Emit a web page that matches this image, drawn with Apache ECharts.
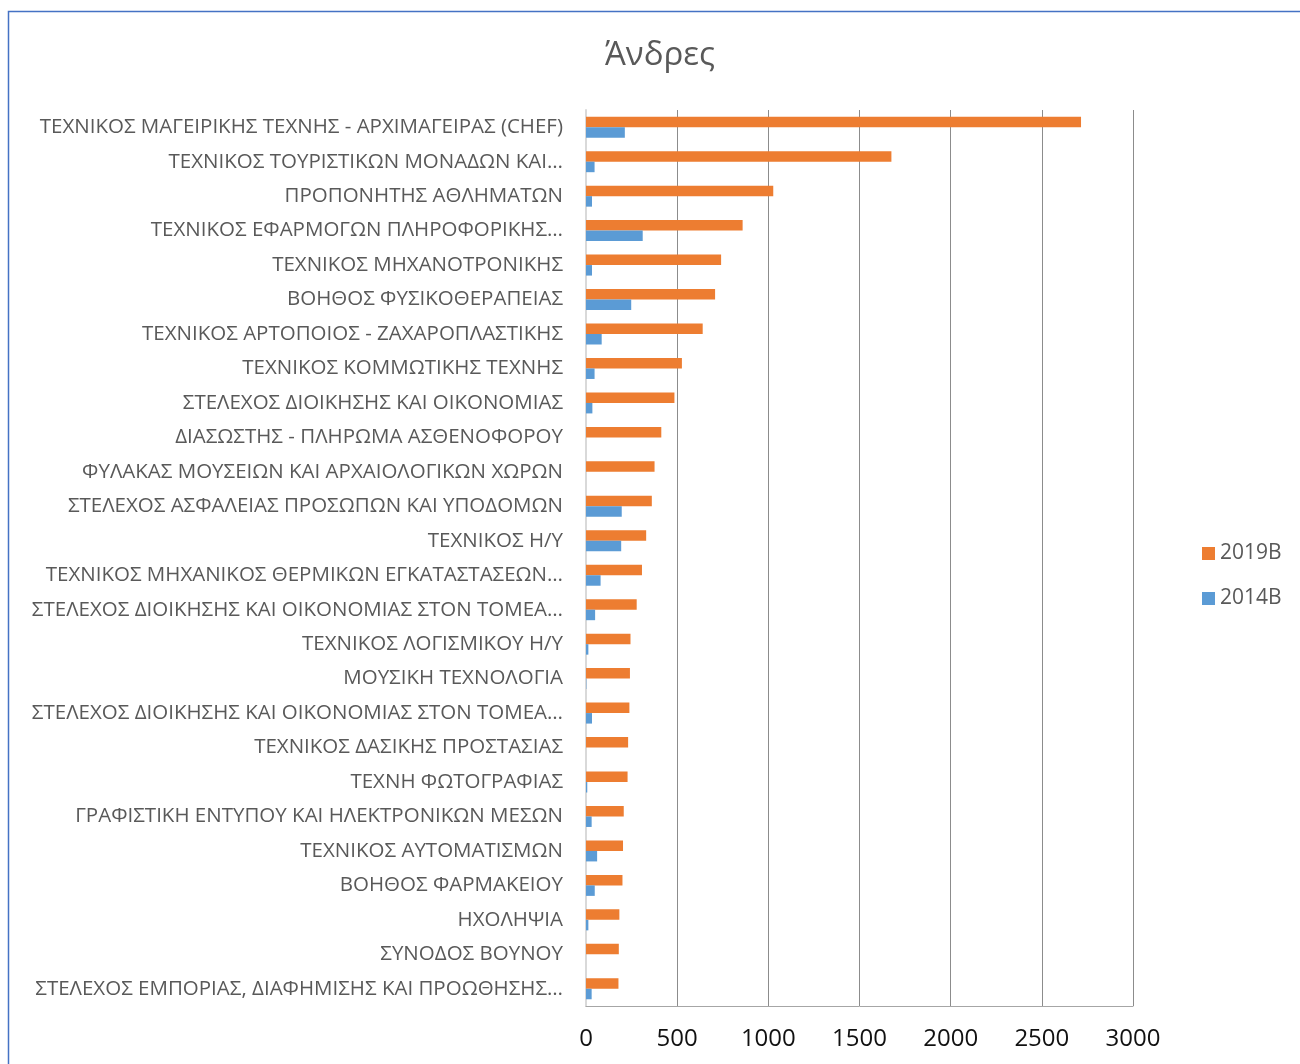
<!DOCTYPE html>
<html>
<head>
<meta charset="utf-8">
<script src="https://cdn.jsdelivr.net/npm/echarts@6/dist/echarts.min.js"></script>
<style>
  html, body { margin: 0; padding: 0; background: #fff; }
  #chart { width: 1300px; height: 1064px; }
</style>
</head>
<body>
<div id="chart"></div>
<script>
const categories = [
  "ΤΕΧΝΙΚΟΣ ΜΑΓΕΙΡΙΚΗΣ ΤΕΧΝΗΣ - ΑΡΧΙΜΑΓΕΙΡΑΣ (CHEF)",
  "ΤΕΧΝΙΚΟΣ ΤΟΥΡΙΣΤΙΚΩΝ ΜΟΝΑΔΩΝ ΚΑΙ…",
  "ΠΡΟΠΟΝΗΤΗΣ ΑΘΛΗΜΑΤΩΝ",
  "ΤΕΧΝΙΚΟΣ ΕΦΑΡΜΟΓΩΝ ΠΛΗΡΟΦΟΡΙΚΗΣ…",
  "ΤΕΧΝΙΚΟΣ ΜΗΧΑΝΟΤΡΟΝΙΚΗΣ",
  "ΒΟΗΘΟΣ ΦΥΣΙΚΟΘΕΡΑΠΕΙΑΣ",
  "ΤΕΧΝΙΚΟΣ ΑΡΤΟΠΟΙΟΣ - ΖΑΧΑΡΟΠΛΑΣΤΙΚΗΣ",
  "ΤΕΧΝΙΚΟΣ ΚΟΜΜΩΤΙΚΗΣ ΤΕΧΝΗΣ",
  "ΣΤΕΛΕΧΟΣ ΔΙΟΙΚΗΣΗΣ ΚΑΙ ΟΙΚΟΝΟΜΙΑΣ",
  "ΔΙΑΣΩΣΤΗΣ - ΠΛΗΡΩΜΑ ΑΣΘΕΝΟΦΟΡΟΥ",
  "ΦΥΛΑΚΑΣ ΜΟΥΣΕΙΩΝ ΚΑΙ ΑΡΧΑΙΟΛΟΓΙΚΩΝ ΧΩΡΩΝ",
  "ΣΤΕΛΕΧΟΣ ΑΣΦΑΛΕΙΑΣ ΠΡΟΣΩΠΩΝ ΚΑΙ ΥΠΟΔΟΜΩΝ",
  "ΤΕΧΝΙΚΟΣ Η/Υ",
  "ΤΕΧΝΙΚΟΣ ΜΗΧΑΝΙΚΟΣ ΘΕΡΜΙΚΩΝ ΕΓΚΑΤΑΣΤΑΣΕΩΝ…",
  "ΣΤΕΛΕΧΟΣ ΔΙΟΙΚΗΣΗΣ ΚΑΙ ΟΙΚΟΝΟΜΙΑΣ ΣΤΟΝ ΤΟΜΕΑ…",
  "ΤΕΧΝΙΚΟΣ ΛΟΓΙΣΜΙΚΟΥ Η/Υ",
  "ΜΟΥΣΙΚΗ ΤΕΧΝΟΛΟΓΙΑ",
  "ΣΤΕΛΕΧΟΣ ΔΙΟΙΚΗΣΗΣ ΚΑΙ ΟΙΚΟΝΟΜΙΑΣ ΣΤΟΝ ΤΟΜΕΑ…",
  "ΤΕΧΝΙΚΟΣ ΔΑΣΙΚΗΣ ΠΡΟΣΤΑΣΙΑΣ",
  "ΤΕΧΝΗ ΦΩΤΟΓΡΑΦΙΑΣ",
  "ΓΡΑΦΙΣΤΙΚΗ ΕΝΤΥΠΟΥ ΚΑΙ ΗΛΕΚΤΡΟΝΙΚΩΝ ΜΕΣΩΝ",
  "ΤΕΧΝΙΚΟΣ ΑΥΤΟΜΑΤΙΣΜΩΝ",
  "ΒΟΗΘΟΣ ΦΑΡΜΑΚΕΙΟΥ",
  "ΗΧΟΛΗΨΙΑ",
  "ΣΥΝΟΔΟΣ ΒΟΥΝΟΥ",
  "ΣΤΕΛΕΧΟΣ ΕΜΠΟΡΙΑΣ, ΔΙΑΦΗΜΙΣΗΣ ΚΑΙ ΠΡΟΩΘΗΣΗΣ…"
];

const values2019B = [2715, 1675, 1027, 859, 741, 708, 640, 526, 485, 413, 376, 361, 330, 307,
                     278, 244, 241, 238, 231, 228, 207, 203, 200, 183, 180, 178];
const values2014B = [213, 47, 33, 311, 33, 248, 86, 47, 35, 0, 0, 196, 193, 80,
                     50, 13, 2, 33, 0, 7, 31, 61, 48, 13, 0, 31];

const xTicks = [0, 500, 1000, 1500, 2000, 2500, 3000];

const seriesNames = ["2019B", "2014B"];
const seriesColors = ["#ED7D31", "#5B9BD5"];

const chart = echarts.init(document.getElementById("chart"));

chart.setOption({
  animation: false,
  backgroundColor: "#fff",
  textStyle: { fontFamily: "Open Sans" },
  graphic: [{
    type: "rect",
    shape: { x: 8.5, y: 11.5, width: 1320, height: 1100 },
    style: { fill: "none", stroke: "#4472C4", lineWidth: 1.5 },
    silent: true
  }],
  title: {
    text: "Άνδρες",
    left: 655,
    textAlign: "center",
    top: 34,
    textStyle: { fontSize: 33, fontWeight: "normal", color: "#595959", fontFamily: "Open Sans" }
  },
  legend: {
    orient: "vertical",
    left: 1202,
    top: 543,
    padding: 0,
    itemWidth: 13,
    itemHeight: 13,
    itemGap: 24,
    icon: "rect",
    data: seriesNames,
    textStyle: { fontSize: 21, color: "#595959" }
  },
  grid: { left: 586, right: 167, top: 110, bottom: 58, containLabel: false },
  xAxis: {
    type: "value",
    min: 0,
    max: 3000,
    interval: 500,
    axisLine: { show: true, lineStyle: { color: "#A6A6A6", width: 1 } },
    axisTick: { show: false },
    splitLine: { show: true, lineStyle: { color: "#8C8C8C", width: 1 } },
    axisLabel: {
      margin: 21,
      fontSize: 24,
      color: "#111",
      formatter: (v) => (xTicks.includes(v) ? String(v) : "")
    }
  },
  yAxis: {
    type: "category",
    inverse: true,
    data: categories,
    axisLine: { show: true, lineStyle: { color: "#D9D9D9", width: 2 } },
    axisTick: { show: false },
    axisLabel: { margin: 23, fontSize: 20.5, color: "#595959", fontFamily: "Open Sans" }
  },
  series: seriesNames.map((name, i) => ({
    name,
    type: "bar",
    data: i === 0 ? values2019B : values2014B,
    barWidth: 10.5,
    barGap: "0%",
    itemStyle: { color: seriesColors[i] }
  }))
});
</script>
</body>
</html>
